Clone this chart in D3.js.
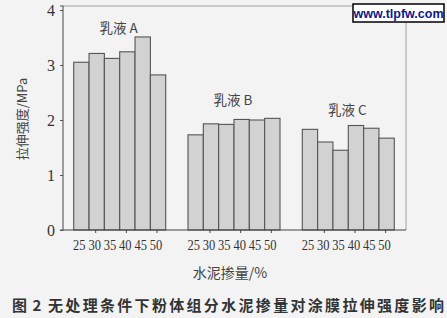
<!DOCTYPE html>
<html><head><meta charset="utf-8">
<script src="https://cdn.jsdelivr.net/npm/d3@7"></script>
<style>
html,body{margin:0;padding:0;background:#f3f3f3;}
svg{display:block;}
.serif{font-family:"Liberation Serif","DejaVu Serif","Times New Roman",serif;}
</style></head>
<body>
<script>
const groups = ["乳液 A", "乳液 B", "乳液 C"];
const cementLevels = ["25", "30", "35", "40", "45", "50"];
const valuesA = [3.05, 3.21, 3.12, 3.24, 3.51, 2.82];
const valuesB = [1.73, 1.93, 1.92, 2.01, 2.00, 2.03];
const valuesC = [1.83, 1.60, 1.45, 1.90, 1.85, 1.67];
const yTicks = [0, 1, 2, 3, 4];
const yTitle = "拉伸强度/MPa";
const xTitle = "水泥掺量/%";
const captionNum = "图 2";
const captionText = "无处理条件下粉体组分水泥掺量对涂膜拉伸强度影响";
const watermark = "www.tlpfw.com";

const seriesValues = [valuesA, valuesB, valuesC];
const W = 447, H = 318;
const plot = {left: 63, right: 406, top: 6, bottom: 230};
const cjk = "'Noto Sans CJK SC', 'Noto Sans CJK JP', sans-serif";
const labelLift = [4, 13, 11];

const svg = d3.select("body").append("svg").attr("width", W).attr("height", H);
svg.append("rect").attr("width", W).attr("height", H).attr("fill", "#f3f3f3");

const y = d3.scaleLinear().domain([0, 4]).range([230, 10]);
const xg = d3.scaleBand().domain(groups).range([73.7, 394.3]).paddingInner(0.195).paddingOuter(0);
const xi = d3.scaleBand().domain(cementLevels).range([0, xg.bandwidth()]).padding(0);

svg.append("line").attr("x1", plot.left).attr("x2", plot.right).attr("y1", plot.top).attr("y2", plot.top)
  .attr("stroke", "#a0a0a0").attr("stroke-width", 1);
svg.append("line").attr("x1", plot.right).attr("x2", plot.right).attr("y1", plot.top).attr("y2", plot.bottom)
  .attr("stroke", "#a0a0a0").attr("stroke-width", 1);

groups.forEach((g, gi) => {
  const gEl = svg.append("g").attr("transform", `translate(${xg(g)},0)`);
  gEl.selectAll("rect").data(seriesValues[gi]).join("rect")
    .attr("x", (d, i) => xi(cementLevels[i]))
    .attr("y", d => y(d))
    .attr("width", xi.bandwidth())
    .attr("height", d => y(0) - y(d))
    .attr("fill", "#d2d2d2")
    .attr("stroke", "#555")
    .attr("stroke-width", 1.1);
  gEl.selectAll("text.tl").data(cementLevels).join("text")
    .attr("class", "tl serif")
    .attr("x", d => xi(d) + xi.bandwidth() / 2 - 2)
    .attr("y", 250)
    .attr("text-anchor", "middle")
    .style("font-size", "14px")
    .attr("textLength", 12.5)
    .attr("lengthAdjust", "spacingAndGlyphs")
    .attr("fill", "#333")
    .text(d => d);
  gEl.selectAll("line.tk").data(["30", "40", "50"]).join("line")
    .attr("class", "tk")
    .attr("x1", d => xi(d) + xi.bandwidth() / 2 - 1)
    .attr("x2", d => xi(d) + xi.bandwidth() / 2 - 1)
    .attr("y1", y(0)).attr("y2", y(0) + 3)
    .attr("stroke", "#444");
  const maxV = d3.max(seriesValues[gi]);
  svg.append("text")
    .attr("x", xg(g) + xg.bandwidth() / 2 - 1)
    .attr("y", y(maxV) - labelLift[gi])
    .attr("text-anchor", "middle")
    .style("font-family", cjk)
    .style("font-size", "13.5px")
    .attr("fill", "#444")
    .text(g);
});

svg.append("line").attr("x1", plot.left).attr("x2", plot.right).attr("y1", y(0)).attr("y2", y(0))
  .attr("stroke", "#444").attr("stroke-width", 1.2);
const yAxis = d3.axisLeft(y).tickValues(yTicks).tickSize(3).tickPadding(5).tickFormat(d3.format("d"));
const ya = svg.append("g").attr("transform", `translate(${plot.left},0)`).call(yAxis);
ya.attr("font-family", null).attr("font-size", null);
ya.select(".domain").attr("stroke", "#555").attr("stroke-width", 1.1)
  .attr("d", `M-3,${plot.top}H0V${plot.bottom}H-3`);
ya.selectAll(".tick line").attr("stroke", "#555");
ya.selectAll(".tick text").attr("class", "serif").style("font-size", "16px").attr("fill", "#333");

svg.append("text")
  .attr("transform", `translate(27,119) rotate(-90)`)
  .attr("text-anchor", "middle")
  .style("font-family", cjk)
  .style("font-size", "13px")
  .attr("fill", "#444")
  .text(yTitle);

svg.append("text")
  .attr("x", 230).attr("y", 278)
  .attr("text-anchor", "middle")
  .style("font-family", cjk)
  .style("font-size", "14px")
  .attr("fill", "#444")
  .text(xTitle);

svg.append("text")
  .attr("x", 12).attr("y", 311)
  .style("font-family", cjk)
  .style("font-weight", "bold")
  .style("font-size", "15px")
  .style("word-spacing", "2px")
  .attr("fill", "#333")
  .text(captionNum);
svg.append("text")
  .attr("x", 48).attr("y", 311)
  .style("font-family", cjk)
  .style("font-weight", "bold")
  .style("font-size", "15px")
  .attr("textLength", 396)
  .attr("lengthAdjust", "spacing")
  .attr("fill", "#333")
  .text(captionText);

svg.append("rect").attr("x", 353).attr("y", 4).attr("width", 91).attr("height", 18)
  .attr("fill", "#fff").attr("stroke", "#000").attr("stroke-width", 1.5);
svg.append("text").attr("x", 398.5).attr("y", 17.5)
  .attr("text-anchor", "middle")
  .style("font-family", "'Liberation Sans', Arial, sans-serif")
  .style("font-weight", "bold").style("font-size", "12.5px")
  .attr("fill", "#0a1a8c")
  .text(watermark);
</script>
</body></html>
